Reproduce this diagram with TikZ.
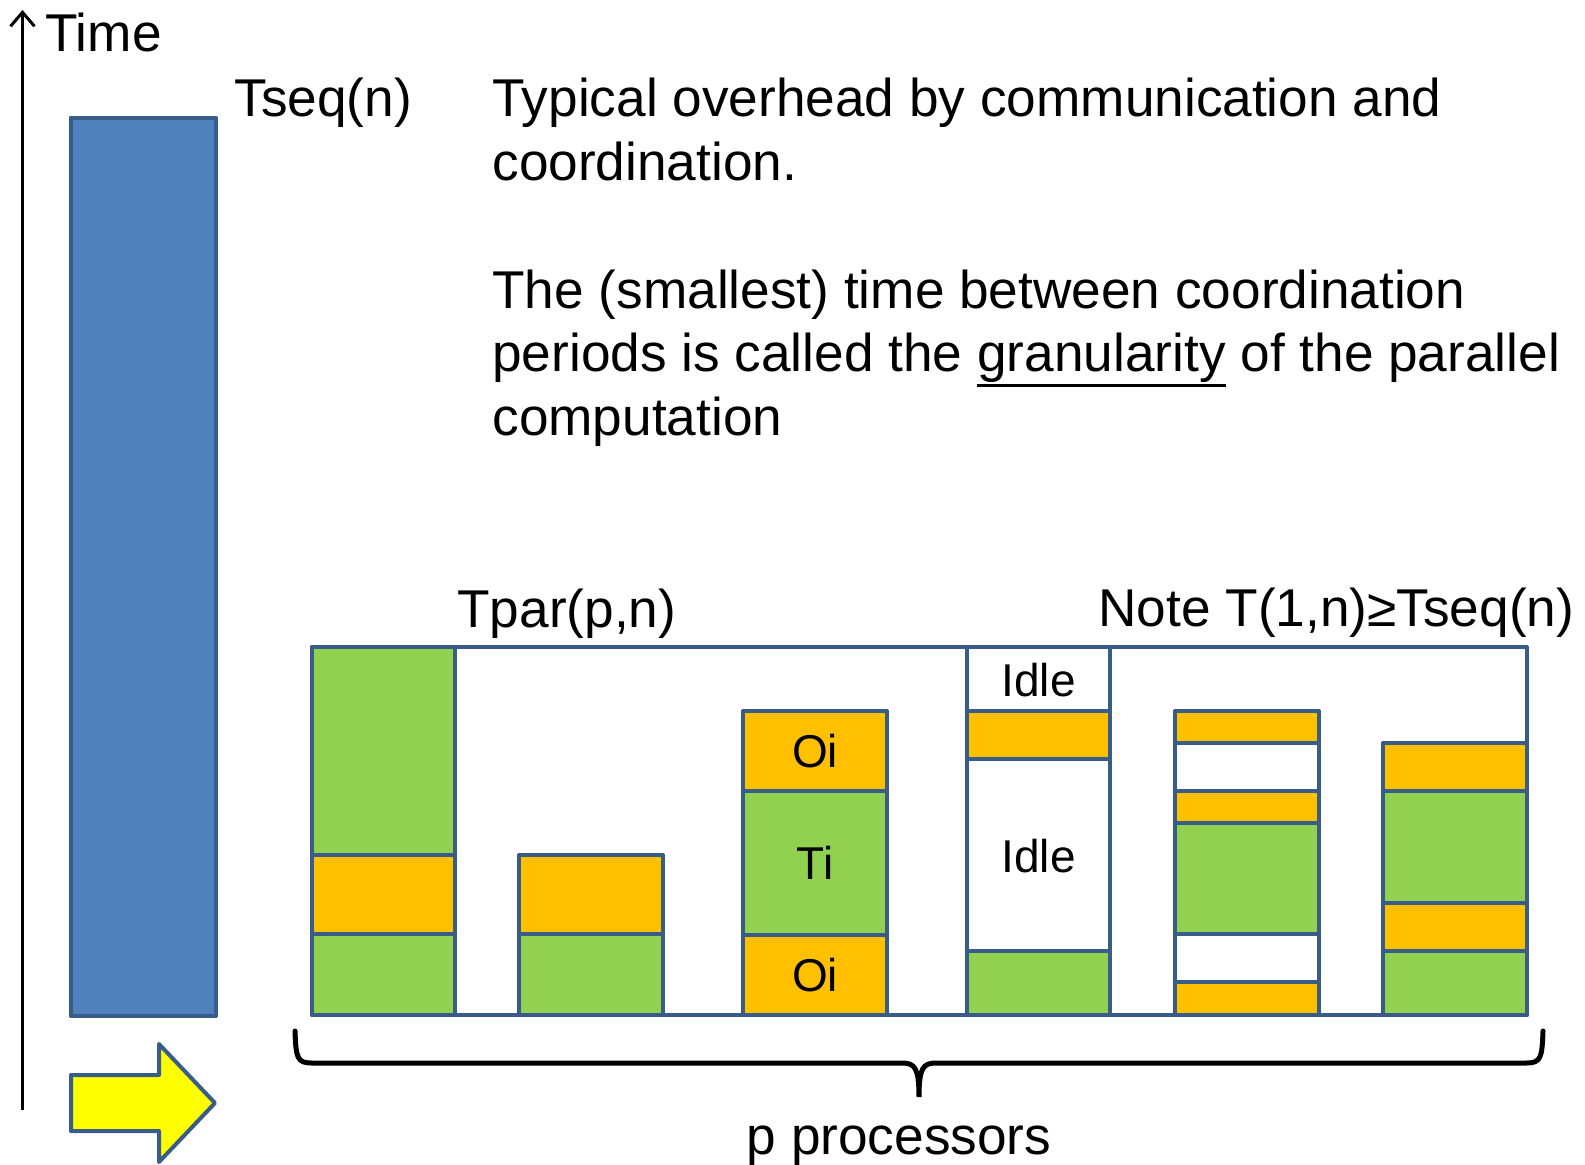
\documentclass[tikz,border=0pt]{standalone}
\usepackage{fontspec}
\setmainfont{Liberation Sans}
\usetikzlibrary{arrows.meta}

\definecolor{edgeblue}{HTML}{385D8A}
\definecolor{barblue}{HTML}{4F81BD}
\definecolor{workgreen}{HTML}{92D050}
\definecolor{overorange}{HTML}{FFC000}
\definecolor{arrowyellow}{HTML}{FFFF00}

% underline drawn as a thick rule below the descenders
\newsavebox\ulbox
\newcommand\ulword[1]{\sbox\ulbox{#1}\rlap{\rule[-7.6pt]{\wd\ulbox}{1.4pt}}\usebox\ulbox}

\tikzset{
  txt/.style={inner sep=0pt, anchor=base west, font=\fontsize{26.6pt}{31.5pt}\selectfont},
  lbl/.style={inner sep=0pt, font=\fontsize{23pt}{27pt}\selectfont},
  seg/.style={draw=edgeblue, line width=2pt, line join=round, fill=#1},
}

\begin{document}
\begin{tikzpicture}[x=0.5pt, y=-0.5pt]
  \useasboundingbox (0,0) rectangle (1585,1164);

  % time axis
  \coordinate (tbot) at (22.5,1110);
  \coordinate (ttop) at (22.5,10);
  \draw[line width=1.5pt, -{Straight Barb[length=7pt,width=12pt]}] (tbot) -- (ttop);
  \node[txt] (time) at (45,51.7) {Time};

  % sequential run
  \path[seg=barblue] (70.5,117.5) rectangle (216,1016);
  \node[txt] (tseq) at (234,116.7) {Tseq(n)};

  % explanatory text
  \node[txt] (t1) at (492,116.7) {Typical overhead by communication and};
  \node[txt] (t2) at (492,180.2) {coordination.};
  \node[txt] (t3) at (492,308) {The (smallest) time between coordination};
  \node[txt] (t4) at (492,371.5) {periods is called the \ulword{granularity} of the parallel};
  \node[txt] (t5) at (492,435) {computation};

  \node[txt] (tpar) at (457,627.5) {Tpar(p,n)};
  \node[txt] (note) at (1098,626) {Note T(1,n)≥Tseq(n)};

  % parallel frame
  \path[seg=white] (312,647) rectangle (1527,1015);

  % processor 1
  \path[seg=workgreen]  (312,647) rectangle (455,855);
  \path[seg=overorange] (312,855) rectangle (455,934);
  \path[seg=workgreen]  (312,934) rectangle (455,1015);

  % processor 2
  \path[seg=overorange] (519,855) rectangle (663,934);
  \path[seg=workgreen]  (519,934) rectangle (663,1015);

  % processor 3
  \path[seg=overorange] (743,711) rectangle (887,791);
  \path[seg=workgreen]  (743,791) rectangle (887,935);
  \path[seg=overorange] (743,935) rectangle (887,1015);
  \node[lbl] (oi1) at (815,751) {Oi};
  \node[lbl] (ti)  at (815,863) {Ti};
  \node[lbl] (oi2) at (815,975) {Oi};

  % processor 4
  \path[seg=white]      (967,647) rectangle (1110,711);
  \path[seg=overorange] (967,711) rectangle (1110,759);
  \path[seg=white]      (967,759) rectangle (1110,951);
  \path[seg=workgreen]  (967,951) rectangle (1110,1015);
  \node[lbl] (idle1) at (1038.5,680) {Idle};
  \node[lbl] (idle2) at (1038.5,856) {Idle};

  % processor 5
  \path[seg=overorange] (1175,711) rectangle (1319,743);
  \path[seg=white]      (1175,743) rectangle (1319,791);
  \path[seg=overorange] (1175,791) rectangle (1319,823);
  \path[seg=workgreen]  (1175,823) rectangle (1319,934);
  \path[seg=white]      (1175,934) rectangle (1319,982);
  \path[seg=overorange] (1175,982) rectangle (1319,1015);

  % processor 6
  \path[seg=overorange] (1383,743) rectangle (1527,791);
  \path[seg=workgreen]  (1383,791) rectangle (1527,903);
  \path[seg=overorange] (1383,903) rectangle (1527,951);
  \path[seg=workgreen]  (1383,951) rectangle (1527,1015);

  % brace under the processors
  \draw[line width=2.5pt, line cap=round]
    (295,1031) .. controls (296,1058) and (297,1063) .. (312,1063)
    -- (902,1063) .. controls (915,1063) and (919,1068) .. (919,1097)
    .. controls (919,1068) and (923,1063) .. (936,1063)
    -- (1526,1063) .. controls (1541,1063) and (1542,1058) .. (1543,1031);
  \node[txt, anchor=base] (procs) at (899,1154) {p processors};

  % yellow block arrow
  \path[seg=arrowyellow] (71,1075) -- (159,1075) -- (159,1044) -- (215,1103)
    -- (159,1162) -- (159,1131) -- (71,1131) -- cycle;
\end{tikzpicture}
\end{document}
